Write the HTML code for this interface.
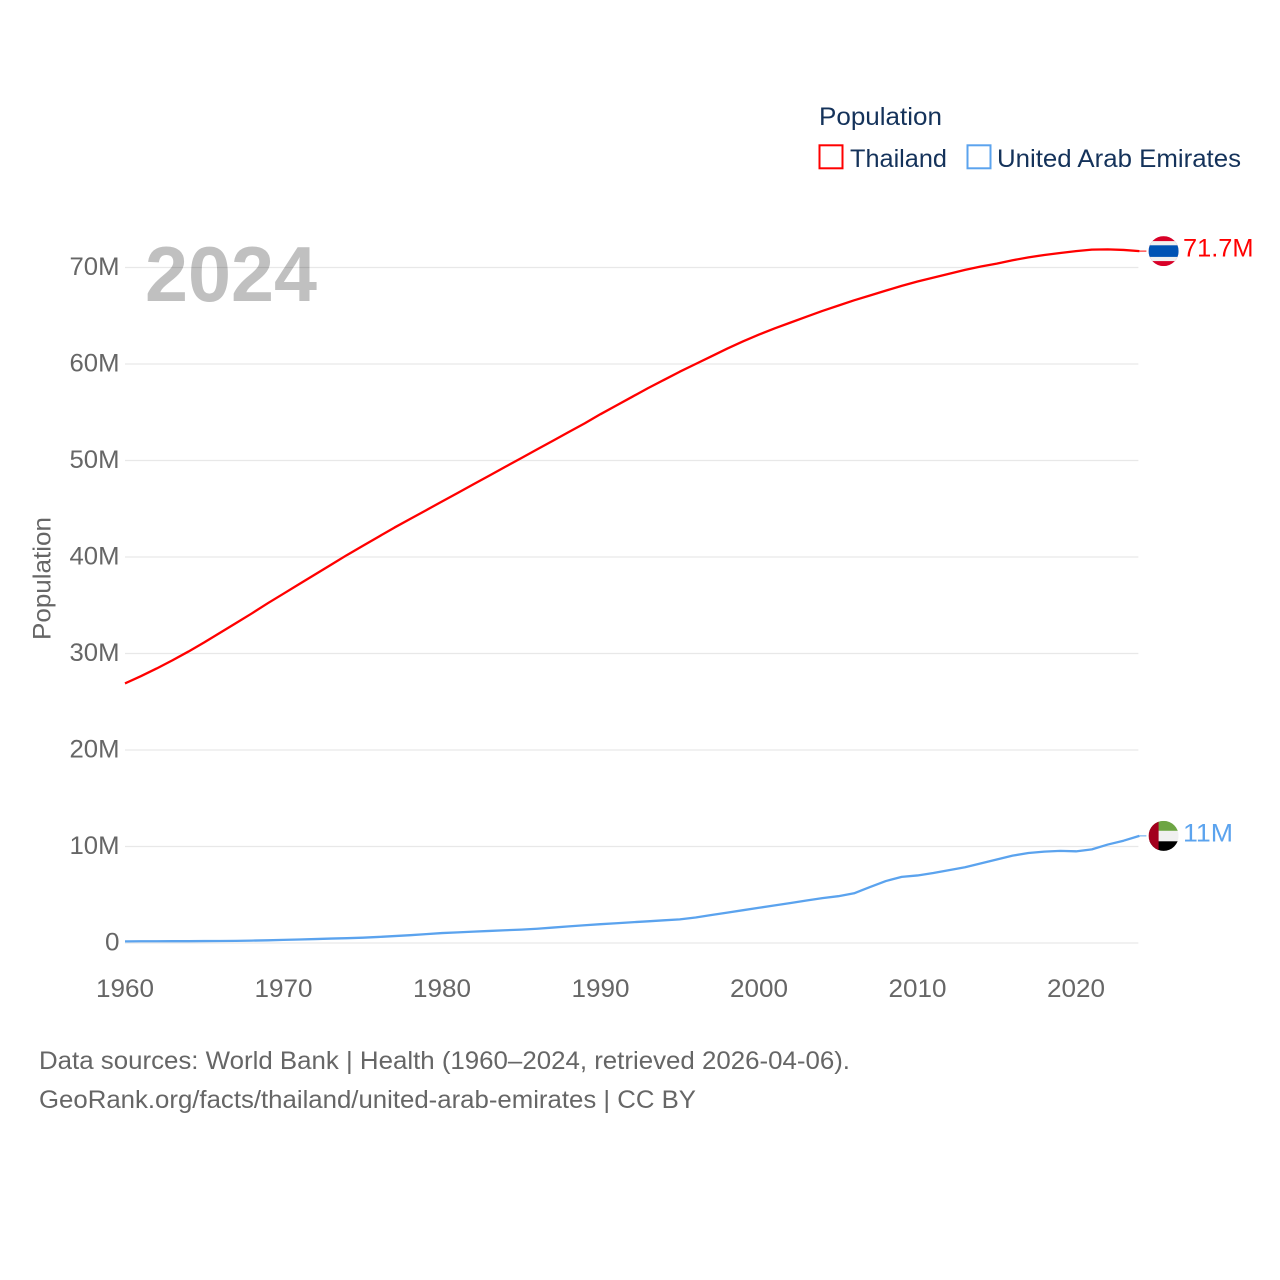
<!DOCTYPE html>
<html lang="en">
<head>
<meta charset="utf-8">
<title>Population: Thailand and United Arab Emirates</title>
<style>
html,body{margin:0;padding:0;background:#fff;width:1280px;height:1280px;overflow:hidden}
svg{display:block;font-family:"Liberation Sans",sans-serif}
</style>
</head>
<body>
<svg id="chart" xmlns="http://www.w3.org/2000/svg" width="1280" height="1280" viewBox="0 0 1280 1280">
  <defs>
    <clipPath id="flag-clip"><circle cx="0" cy="0" r="15"></circle></clipPath>
  </defs>
  <rect x="0" y="0" width="1280" height="1280" fill="#fff"></rect>

  <text x="145" y="301" font-size="78" font-weight="700" fill="#c0c0c0" textLength="172" lengthAdjust="spacingAndGlyphs">2024</text>

  <g id="grid"></g>
  <g id="y-ticks"></g>
  <g id="x-ticks"></g>
  <text transform="translate(50.5,640) rotate(-90)" font-size="25" fill="#666" textLength="123" lengthAdjust="spacingAndGlyphs">Population</text>

  <g id="series"></g>

  <g id="flag-thailand">
    <g clip-path="url(#flag-clip)">
      <rect x="-15" y="-15" width="30" height="30" fill="#d80027"></rect>
      <rect x="-15" y="-10" width="30" height="20" fill="#f0f0f0"></rect>
      <rect x="-15" y="-5.8" width="30" height="11.6" fill="#0052b4"></rect>
    </g>
  </g>
  <g id="flag-uae">
    <g clip-path="url(#flag-clip)">
      <rect x="-15" y="-15" width="30" height="10" fill="#6da544"></rect>
      <rect x="-15" y="-5" width="30" height="10.4" fill="#f0f0f0"></rect>
      <rect x="-15" y="5.4" width="30" height="10" fill="#000"></rect>
      <rect x="-15" y="-15" width="10" height="30" fill="#a2001d"></rect>
    </g>
  </g>
  <g id="end-labels"></g>

  <g>
    <text x="819" y="125" font-size="25" fill="#14325a" textLength="123" lengthAdjust="spacingAndGlyphs">Population</text>
    <rect x="819.5" y="145.3" width="23" height="23" fill="#fff" stroke="#ff0000" stroke-width="2"></rect>
    <text x="850" y="167" font-size="25" fill="#14325a" textLength="97" lengthAdjust="spacingAndGlyphs">Thailand</text>
    <rect x="967.5" y="145.3" width="23" height="23" fill="#fff" stroke="#5ba3ee" stroke-width="2"></rect>
    <text x="997" y="167" font-size="25" fill="#14325a" textLength="244" lengthAdjust="spacingAndGlyphs">United Arab Emirates</text>
  </g>

  <text x="39" y="1069" font-size="25" fill="#666" textLength="811" lengthAdjust="spacingAndGlyphs">Data sources: World Bank | Health (1960–2024, retrieved 2026-04-06).</text>
  <text x="39" y="1108" font-size="25" fill="#666" textLength="657" lengthAdjust="spacingAndGlyphs">GeoRank.org/facts/thailand/united-arab-emirates | CC BY</text>
</svg>
<script>
const firstYear = 1960;
const thailandValues = [26.9,27.65,28.45,29.3,30.2,31.15,32.15,33.15,34.15,35.2,36.2,37.2,38.2,39.2,40.2,41.15,42.1,43.05,43.95,44.85,45.75,46.65,47.55,48.45,49.35,50.25,51.15,52.05,52.95,53.85,54.8,55.7,56.6,57.5,58.35,59.2,60.0,60.8,61.6,62.35,63.05,63.7,64.3,64.9,65.5,66.05,66.6,67.1,67.6,68.1,68.55,68.95,69.35,69.75,70.1,70.4,70.75,71.05,71.3,71.5,71.7,71.85,71.88,71.82,71.7];
const uaeValues = [0.17,0.18,0.18,0.19,0.19,0.2,0.21,0.22,0.25,0.28,0.32,0.36,0.41,0.46,0.5,0.55,0.63,0.72,0.81,0.92,1.03,1.1,1.18,1.25,1.32,1.39,1.48,1.6,1.72,1.84,1.95,2.05,2.15,2.25,2.35,2.45,2.64,2.9,3.15,3.4,3.65,3.9,4.15,4.4,4.65,4.85,5.15,5.8,6.42,6.85,7.0,7.25,7.55,7.85,8.25,8.65,9.05,9.33,9.47,9.55,9.5,9.7,10.2,10.6,11.1];
const yTickValues = [0,10,20,30,40,50,60,70];
const yTickLabels = ["0","10M","20M","30M","40M","50M","60M","70M"];
const xTickYears = [1960,1970,1980,1990,2000,2010,2020];
const xTickLabels = ["1960","1970","1980","1990","2000","2010","2020"];
const endLabelTexts = ["71.7M","11M"];

const NS = "http://www.w3.org/2000/svg";
const x0 = 125, pxPerYear = 15.85, y0 = 943, pxPerMillion = 9.65;
const xScale = function (year) { return x0 + (year - firstYear) * pxPerYear; };
const yScale = function (v) { return y0 - v * pxPerMillion; };
const labelWidth = function (s) {
  let w = 0;
  for (const c of s) { w += c === "M" ? 21 : c === "." ? 6 : 14.5; }
  return w;
};
const lastYear = firstYear + thailandValues.length - 1;

const grid = document.getElementById("grid");
const yTicks = document.getElementById("y-ticks");
yTickValues.forEach(function (v, i) {
  const line = document.createElementNS(NS, "line");
  
  
  line.setAttribute("x1", x0);
  line.setAttribute("x2", xScale(lastYear) - 1);
  line.setAttribute("y1", yScale(v));
  line.setAttribute("y2", yScale(v));
  line.setAttribute("stroke", "rgba(0,0,0,0.09)");
  line.setAttribute("stroke-width", "1.2");
  grid.appendChild(line);

  const t = document.createElementNS(NS, "text");
  
  
  t.setAttribute("x", 119.5);
  t.setAttribute("y", yScale(v) + 7.7);
  t.setAttribute("text-anchor", "end");
  t.setAttribute("font-size", "25");
  t.setAttribute("fill", "#666");
  t.setAttribute("textLength", labelWidth(yTickLabels[i]));
  t.setAttribute("lengthAdjust", "spacingAndGlyphs");
  t.textContent = yTickLabels[i];
  yTicks.appendChild(t);
});

const xTicks = document.getElementById("x-ticks");
xTickYears.forEach(function (yr, i) {
  const t = document.createElementNS(NS, "text");
  
  
  t.setAttribute("x", xScale(yr));
  t.setAttribute("y", 997);
  t.setAttribute("text-anchor", "middle");
  t.setAttribute("font-size", "25");
  t.setAttribute("fill", "#666");
  t.setAttribute("textLength", labelWidth(xTickLabels[i]));
  t.setAttribute("lengthAdjust", "spacingAndGlyphs");
  t.textContent = xTickLabels[i];
  xTicks.appendChild(t);
});

const seriesGroup = document.getElementById("series");
const buildPoints = function (values) {
  return values.map(function (v, i) {
    return xScale(firstYear + i).toFixed(2) + "," + yScale(v).toFixed(2);
  }).join(" ");
};

const thailandLine = document.createElementNS(NS, "polyline");


thailandLine.setAttribute("points", buildPoints(thailandValues));
thailandLine.setAttribute("fill", "none");
thailandLine.setAttribute("stroke", "#ff0000");
thailandLine.setAttribute("stroke-width", "2.3");
thailandLine.setAttribute("stroke-linejoin", "round");
seriesGroup.appendChild(thailandLine);

const uaeLine = document.createElementNS(NS, "polyline");


uaeLine.setAttribute("points", buildPoints(uaeValues));
uaeLine.setAttribute("fill", "none");
uaeLine.setAttribute("stroke", "#5ba3ee");
uaeLine.setAttribute("stroke-width", "2.3");
uaeLine.setAttribute("stroke-linejoin", "round");
seriesGroup.appendChild(uaeLine);

const endX = xScale(lastYear);
const thailandEndY = yScale(thailandValues[thailandValues.length - 1]);
const uaeEndY = yScale(uaeValues[uaeValues.length - 1]);

const thailandConnector = document.createElementNS(NS, "line");


thailandConnector.setAttribute("x1", endX);
thailandConnector.setAttribute("x2", endX + 7);
thailandConnector.setAttribute("y1", thailandEndY);
thailandConnector.setAttribute("y2", thailandEndY);
thailandConnector.setAttribute("stroke", "#ff0000");
thailandConnector.setAttribute("stroke-width", "1");
seriesGroup.appendChild(thailandConnector);

const uaeConnector = document.createElementNS(NS, "line");


uaeConnector.setAttribute("x1", endX);
uaeConnector.setAttribute("x2", endX + 7);
uaeConnector.setAttribute("y1", uaeEndY);
uaeConnector.setAttribute("y2", uaeEndY);
uaeConnector.setAttribute("stroke", "#5ba3ee");
uaeConnector.setAttribute("stroke-width", "1");
seriesGroup.appendChild(uaeConnector);

document.getElementById("flag-thailand").setAttribute("transform", "translate(1163.6," + thailandEndY + ")");
document.getElementById("flag-uae").setAttribute("transform", "translate(1163.6," + uaeEndY + ")");

const endLabels = document.getElementById("end-labels");

const thailandLabel = document.createElementNS(NS, "text");


thailandLabel.setAttribute("x", 1183);
thailandLabel.setAttribute("y", thailandEndY + 5.6);
thailandLabel.setAttribute("font-size", "25");
thailandLabel.setAttribute("fill", "#ff0000");
thailandLabel.setAttribute("textLength", labelWidth(endLabelTexts[0]));
thailandLabel.setAttribute("lengthAdjust", "spacingAndGlyphs");
thailandLabel.textContent = endLabelTexts[0];
endLabels.appendChild(thailandLabel);

const uaeLabel = document.createElementNS(NS, "text");


uaeLabel.setAttribute("x", 1183);
uaeLabel.setAttribute("y", uaeEndY + 5.8);
uaeLabel.setAttribute("font-size", "25");
uaeLabel.setAttribute("fill", "#5ba3ee");
uaeLabel.setAttribute("textLength", labelWidth(endLabelTexts[1]));
uaeLabel.setAttribute("lengthAdjust", "spacingAndGlyphs");
uaeLabel.textContent = endLabelTexts[1];
endLabels.appendChild(uaeLabel);
</script>
</body>
</html>
